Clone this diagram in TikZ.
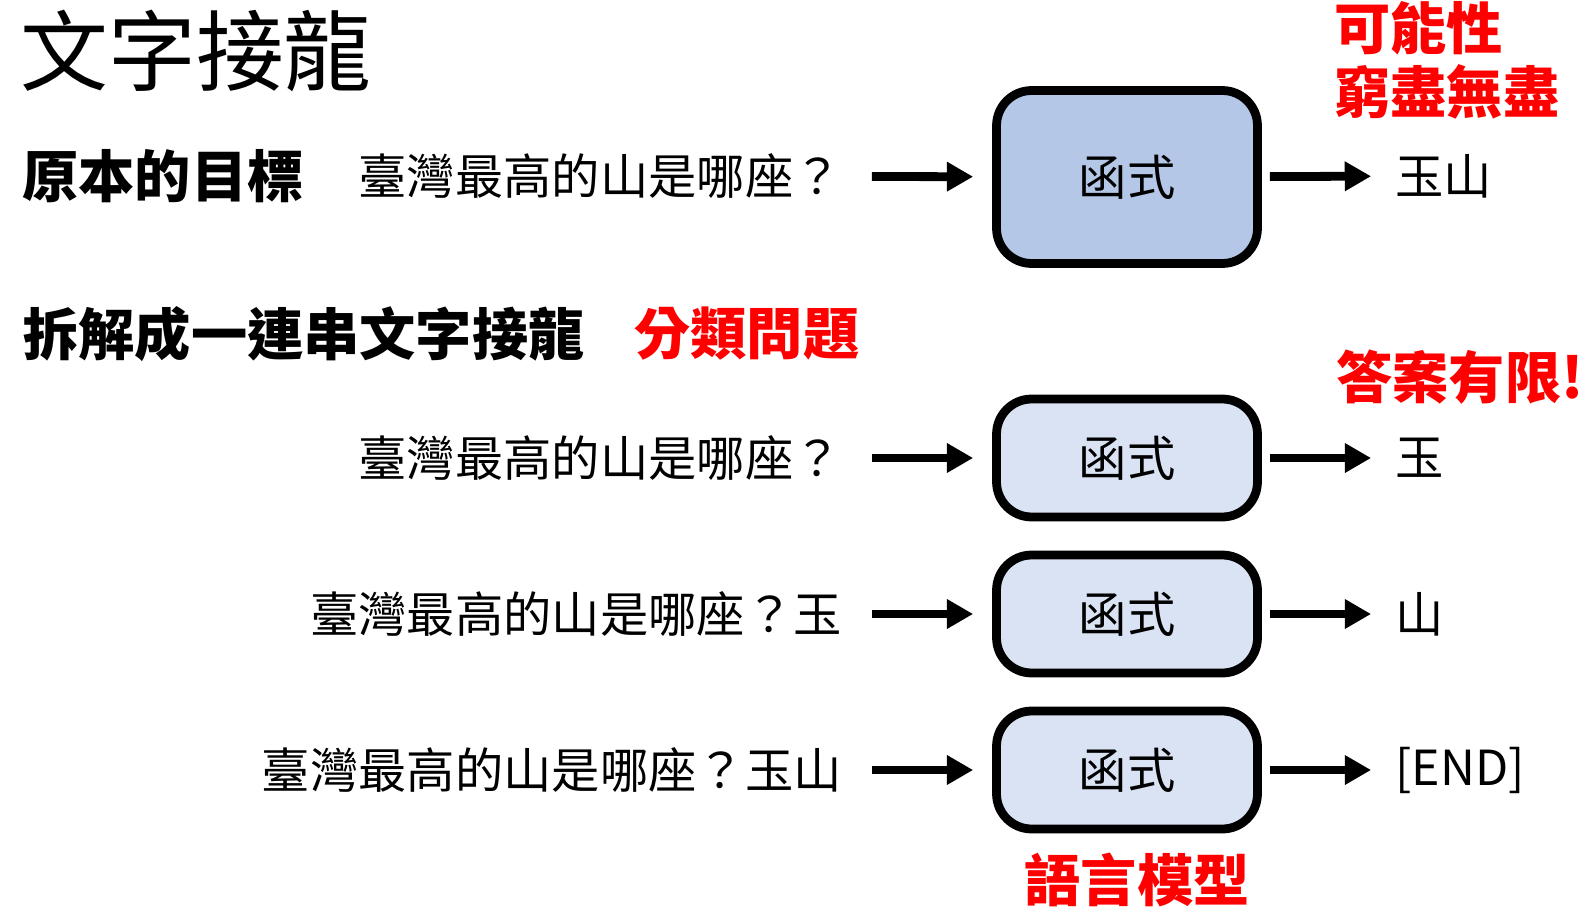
\documentclass[tikz,border=0pt]{standalone}
\usepackage{fontspec}
\setmainfont{Noto Sans CJK TC}
\usetikzlibrary{arrows.meta,positioning}
\definecolor{fnfill}{HTML}{B4C7E7}
\definecolor{fnlight}{HTML}{DAE3F3}
\definecolor{hintred}{RGB}{255,0,0}

\begin{document}
\begin{tikzpicture}[x=0.02cm,y=-0.02cm,
  txt/.style={inner sep=0pt,font=\fontsize{27.5pt}{32pt}\selectfont},
  head/.style={inner sep=0pt,anchor=west,font=\bfseries\fontsize{32pt}{37pt}\selectfont},
  hint/.style={head,text=hintred},
  func/.style={rectangle,rounded corners=20pt,draw=black,line width=5pt,fill=fnlight,minimum width=5.22cm,minimum height=2.36cm,font=\fontsize{27.5pt}{32pt}\selectfont},
  inarrow/.style={-{Triangle[length=15pt,width=16pt]},line width=5pt,shorten <=17pt,shorten >=10.8pt},
  outarrow/.style={-{Triangle[length=15pt,width=16pt]},line width=5pt,shorten <=4.5pt,shorten >=13.6pt}]
  \useasboundingbox (0,0) rectangle (1590,916);
  % title and headings
  \node[inner sep=0pt,anchor=west,font=\fontsize{50pt}{60pt}\selectfont] (title) at (20,51) {文字接龍};
  \node[head] (goal) at (22,176) {原本的目標};
  \node[head] (split) at (22,334) {拆解成一連串文字接龍};
  \node[hint] (cls) at (634,334) {分類問題};
  \node[hint] (poss) at (1334,28) {可能性};
  \node[hint] (endless) at (1334,92) {窮盡無盡};
  \node[hint] (finite) at (1336,377) {答案有限!};
  % original goal
  \node[txt,anchor=east] (q0) at (842,176) {臺灣最高的山是哪座？};
  \node[func,fill=fnfill,minimum height=3.46cm] (f0) at (1127,177) {函式};
  \node[txt,anchor=west] (o0) at (1395,176) {玉山};
  \draw[inarrow] (q0)--(f0); \draw[outarrow] (f0)--(o0);
  % next-token steps
  \foreach \i/\y/\q/\a in {1/458/臺灣最高的山是哪座？/玉,2/614/臺灣最高的山是哪座？玉/山,3/770/臺灣最高的山是哪座？玉山/{[END]}}{
    \node[txt,anchor=east] (q\i) at (842,\y) {\q};
    \node[func] (f\i) at (1127,\y) {函式};
    \node[txt,anchor=west] (o\i) at (1395,\y) {\a};
    \draw[inarrow] (q\i)--(f\i); \draw[outarrow] (f\i)--(o\i);
  }
  \node[hint,anchor=center] (lm) at (1137,880) {語言模型};
\end{tikzpicture}
\end{document}
